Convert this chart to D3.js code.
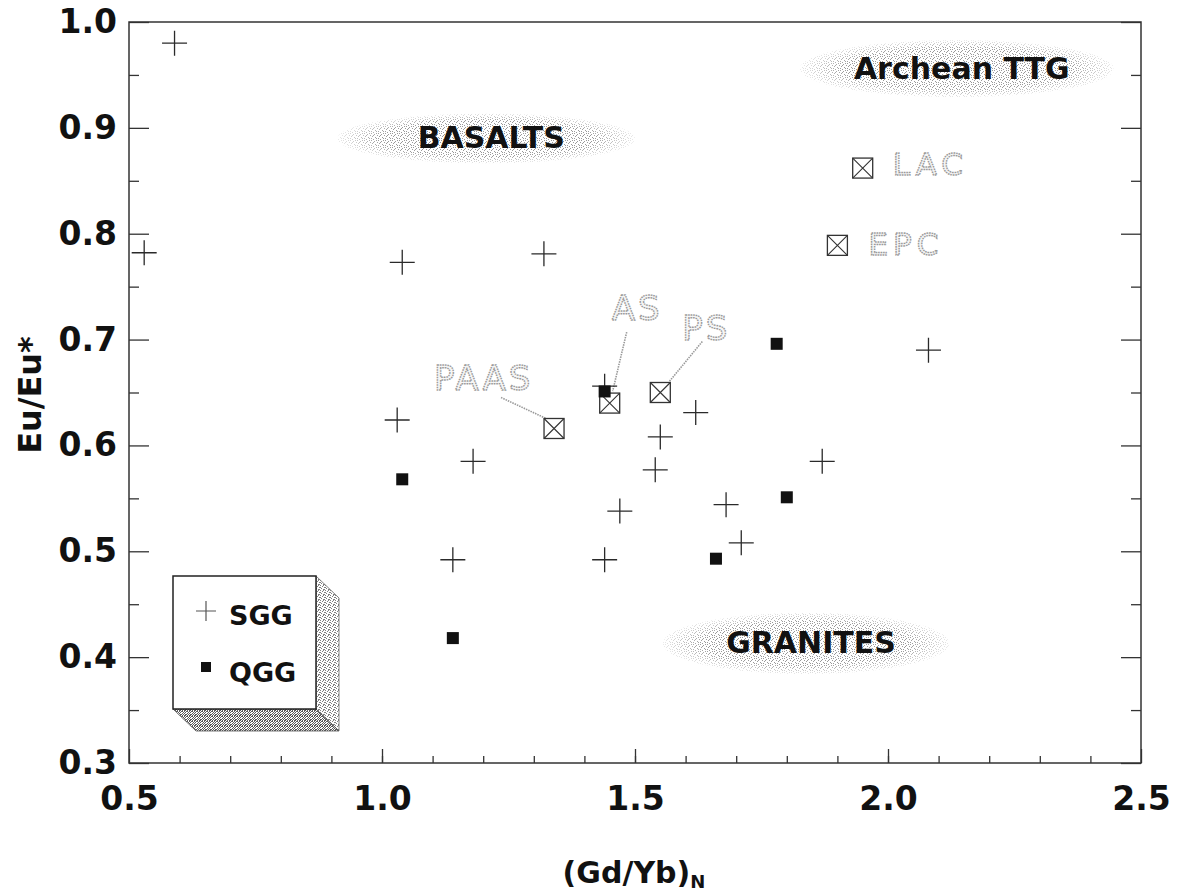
<!DOCTYPE html>
<html>
<head>
<meta charset="utf-8">
<script src="https://cdn.jsdelivr.net/npm/d3@7/dist/d3.min.js"></script>
<style>
  html, body { margin: 0; padding: 0; background: #fff; }
  svg { display: block; }
  text { font-family: "DejaVu Sans", "Liberation Sans", Arial, sans-serif; }
</style>
</head>
<body>
<svg id="chart" width="1178" height="892"></svg>
<script>
// ---- data ----
const sggX = [0.59, 0.53, 1.04, 1.32, 1.03, 1.18, 1.44, 1.62, 1.55, 1.54, 1.47, 1.14, 1.44, 1.68, 1.71, 2.08, 1.87];
const sggY = [0.980, 0.782, 0.773, 0.781, 0.624, 0.585, 0.656, 0.631, 0.608, 0.577, 0.538, 0.492, 0.492, 0.544, 0.508, 0.690, 0.585];
const qggX = [1.04, 1.14, 1.44, 1.66, 1.78, 1.80];
const qggY = [0.568, 0.418, 0.651, 0.493, 0.696, 0.551];
const refNames = ["PAAS", "AS", "PS", "LAC", "EPC"];
const refX = [1.34, 1.45, 1.55, 1.95, 1.90];
const refY = [0.616, 0.640, 0.650, 0.862, 0.789];
const fieldNames = ["BASALTS", "Archean TTG", "GRANITES"];
const fieldX = [1.206, 2.136, 1.838];
const fieldY = [0.890, 0.956, 0.413];
const xMajorTicks = [0.5, 1.0, 1.5, 2.0, 2.5];
const yMajorTicks = [0.3, 0.4, 0.5, 0.6, 0.7, 0.8, 0.9, 1.0];

// ---- layout ----
const svg = d3.select("#chart");
const L = 129, R = 1141, T = 22, B = 763;
const x = d3.scaleLinear().domain([0.5, 2.5]).range([L, R]);
const y = d3.scaleLinear().domain([0.3, 1.0]).range([B, T]);

const defs = svg.append("defs");

// stipple textures
function stipple(id, size, dots, color) {
  const p = defs.append("pattern").attr("id", id)
    .attr("patternUnits", "userSpaceOnUse").attr("width", size).attr("height", size);
  dots.forEach(d => p.append("rect").attr("x", d[0]).attr("y", d[1])
    .attr("width", 1).attr("height", 1).attr("fill", color));
}
stipple("stipField", 7, [[0,0],[3,1],[6,2],[1,3],[4,4],[2,6],[5,5],[0,5],[5,0],[2,2]], "#9a9a9a");
stipple("stipSide", 5, [[0,0],[2,1],[4,2],[1,3],[3,4],[0,2],[3,0],[4,4]], "#808080");
stipple("stipBottom", 5, [[0,0],[2,0],[4,1],[1,1],[3,2],[0,2],[2,3],[4,3],[1,4],[3,4],[0,4],[2,1],[4,0]], "#5a5a5a");

// soft-edged mask for the field ellipses
const rg = defs.append("radialGradient").attr("id", "fadeGrad");
rg.append("stop").attr("offset", "0.72").attr("stop-color", "#fff");
rg.append("stop").attr("offset", "1").attr("stop-color", "#333");
defs.append("mask").attr("id", "fadeMask")
  .attr("maskContentUnits", "objectBoundingBox")
  .append("rect").attr("width", 1).attr("height", 1).attr("fill", "url(#fadeGrad)");

// ---- compositional fields ----
const fieldRx = [0.294, 0.31, 0.283];
const fieldRy = [0.0236, 0.027, 0.029];
const fields = svg.append("g");
fieldNames.forEach((name, i) => {
  const cx = x(fieldX[i]), cy = y(fieldY[i]);
  const rx = x(fieldX[i] + fieldRx[i]) - cx;
  const ry = y(fieldY[i] - fieldRy[i]) - cy;
  fields.append("g").attr("mask", "url(#fadeMask)")
    .append("ellipse").attr("cx", cx).attr("cy", cy).attr("rx", rx).attr("ry", ry)
    .attr("fill", "url(#stipField)");
  fields.append("text").attr("x", cx + 5).attr("y", cy + 10)
    .attr("text-anchor", "middle").attr("font-size", 30).attr("font-weight", "bold")
    .attr("fill", "#111").text(name);
});

// ---- axes (ticks point inward) ----
const tickFont = g => g.selectAll("text").attr("font-size", 33).attr("font-weight", "bold")
  .attr("fill", "#111").attr("font-family", "DejaVu Sans, sans-serif");
const tickLine = g => g.selectAll("line").attr("stroke", "#333").attr("stroke-width", 1.3);

svg.append("g").attr("transform", `translate(0,${B})`)
  .call(d3.axisBottom(x).tickValues(d3.range(0.6, 2.45, 0.1)).tickSize(-7).tickFormat(""))
  .call(g => g.select(".domain").remove()).call(tickLine);
svg.append("g").attr("transform", `translate(0,${B})`)
  .call(d3.axisBottom(x).tickValues(xMajorTicks).tickSize(-14).tickPadding(24).tickFormat(d3.format(".1f")))
  .call(g => g.select(".domain").remove()).call(tickLine).call(tickFont);

svg.append("g").attr("transform", `translate(${L},0)`)
  .call(d3.axisLeft(y).tickValues(d3.range(0.35, 1.0, 0.1)).tickSize(-10).tickFormat(""))
  .call(g => g.select(".domain").remove()).call(tickLine);
svg.append("g").attr("transform", `translate(${L},0)`)
  .call(d3.axisLeft(y).tickValues(yMajorTicks).tickSize(-20).tickPadding(12).tickFormat(d3.format(".1f")))
  .call(g => g.select(".domain").remove()).call(tickLine).call(tickFont);

svg.append("g").attr("transform", `translate(${R},0)`)
  .call(d3.axisRight(y).tickValues(d3.range(0.35, 1.0, 0.1)).tickSize(-10).tickFormat(""))
  .call(g => g.select(".domain").remove()).call(tickLine);
svg.append("g").attr("transform", `translate(${R},0)`)
  .call(d3.axisRight(y).tickValues(yMajorTicks).tickSize(-20).tickFormat(""))
  .call(g => g.select(".domain").remove()).call(tickLine);

svg.append("rect").attr("x", L).attr("y", T).attr("width", R - L).attr("height", B - T)
  .attr("fill", "none").attr("stroke", "#333").attr("stroke-width", 1.5);

// axis titles
const xt = svg.append("text").attr("x", 634).attr("y", 883).attr("text-anchor", "middle")
  .attr("font-size", 30).attr("font-weight", "bold").attr("fill", "#111");
xt.append("tspan").text("(Gd/Yb)");
xt.append("tspan").attr("font-size", 18).attr("dy", 5).text("N");

svg.append("text").attr("transform", "translate(41,395) rotate(-90)")
  .attr("text-anchor", "middle").attr("font-size", 32).attr("font-weight", "bold")
  .attr("fill", "#111").text("Eu/Eu*");

// ---- reference compositions ----
const refLabelDx = [-120, 2, 22, 30, 31];
const refLabelDy = [-38, -83, -53, 7, 10];
const refLeader = [[-53, -31, -8, -10], [17, -71, 3, -12], [42, -51, 9, -11], null, null];
const refs = svg.append("g");
refNames.forEach((name, i) => {
  const px = x(refX[i]), py = y(refY[i]);
  if (refLeader[i]) {
    const l = refLeader[i];
    refs.append("line").attr("x1", px + l[0]).attr("y1", py + l[1])
      .attr("x2", px + l[2]).attr("y2", py + l[3])
      .attr("stroke", "#999").attr("stroke-width", 1.6).attr("stroke-dasharray", "1.5 1");
  }
  refs.append("text").attr("x", px + refLabelDx[i]).attr("y", py + refLabelDy[i])
    .attr("font-size", i >= 3 ? 31 : 34).attr("letter-spacing", i >= 3 ? 5 : 3)
    .attr("fill", "#f6f6f6").attr("stroke", "#999").attr("stroke-width", 1.4)
    .attr("stroke-dasharray", "1.6 0.9").text(name);
});

// ---- sample markers ----
const marks = svg.append("g");
const cross = 12.5;
d3.range(sggX.length).forEach(i => {
  const px = x(sggX[i]), py = y(sggY[i]);
  marks.append("path")
    .attr("d", `M${px - cross},${py}H${px + cross}M${px},${py - cross}V${py + cross}`)
    .attr("stroke", "#2a2a2a").attr("stroke-width", 1.3).attr("fill", "none");
});

const box = 10;
refNames.forEach((name, i) => {
  const px = x(refX[i]), py = y(refY[i]);
  marks.append("rect").attr("x", px - box).attr("y", py - box)
    .attr("width", 2 * box).attr("height", 2 * box)
    .attr("fill", "#fff").attr("stroke", "#333").attr("stroke-width", 1.3);
  marks.append("path")
    .attr("d", `M${px - box},${py - box}L${px + box},${py + box}M${px + box},${py - box}L${px - box},${py + box}`)
    .attr("stroke", "#333").attr("stroke-width", 1.1);
});

const sq = 6;
d3.range(qggX.length).forEach(i => {
  const px = x(qggX[i]), py = y(qggY[i]);
  marks.append("rect").attr("x", px - sq).attr("y", py - sq)
    .attr("width", 2 * sq).attr("height", 2 * sq).attr("fill", "#111");
});

// ---- legend (3-D box) ----
const lg = svg.append("g");
const lx0 = 173, ly0 = 576, lx1 = 316, ly1 = 709, dx = 23, dy = 22;
lg.append("path").attr("d", `M${lx1},${ly0}L${lx1 + dx},${ly0 + dy}V${ly1 + dy}L${lx1},${ly1}Z`)
  .attr("fill", "url(#stipSide)").attr("stroke", "#666").attr("stroke-width", 0.8);
lg.append("path").attr("d", `M${lx0},${ly1}H${lx1}L${lx1 + dx},${ly1 + dy}H${lx0 + dx}Z`)
  .attr("fill", "url(#stipBottom)").attr("stroke", "#555").attr("stroke-width", 0.8);
lg.append("rect").attr("x", lx0).attr("y", ly0).attr("width", lx1 - lx0).attr("height", ly1 - ly0)
  .attr("fill", "#fff").attr("stroke", "#222").attr("stroke-width", 1.5);

const lcx = 206, lcy = 611, lc = 10;
lg.append("path").attr("d", `M${lcx - lc},${lcy}H${lcx + lc}M${lcx},${lcy - lc}V${lcy + lc}`)
  .attr("stroke", "#555").attr("stroke-width", 1.2);
lg.append("text").attr("x", 229).attr("y", 625).attr("font-size", 27).attr("font-weight", "bold")
  .attr("fill", "#111").text("SGG");
lg.append("rect").attr("x", 201).attr("y", 662).attr("width", 10).attr("height", 10).attr("fill", "#111");
lg.append("text").attr("x", 229).attr("y", 682).attr("font-size", 27).attr("font-weight", "bold")
  .attr("fill", "#111").text("QGG");
</script>
</body>
</html>
